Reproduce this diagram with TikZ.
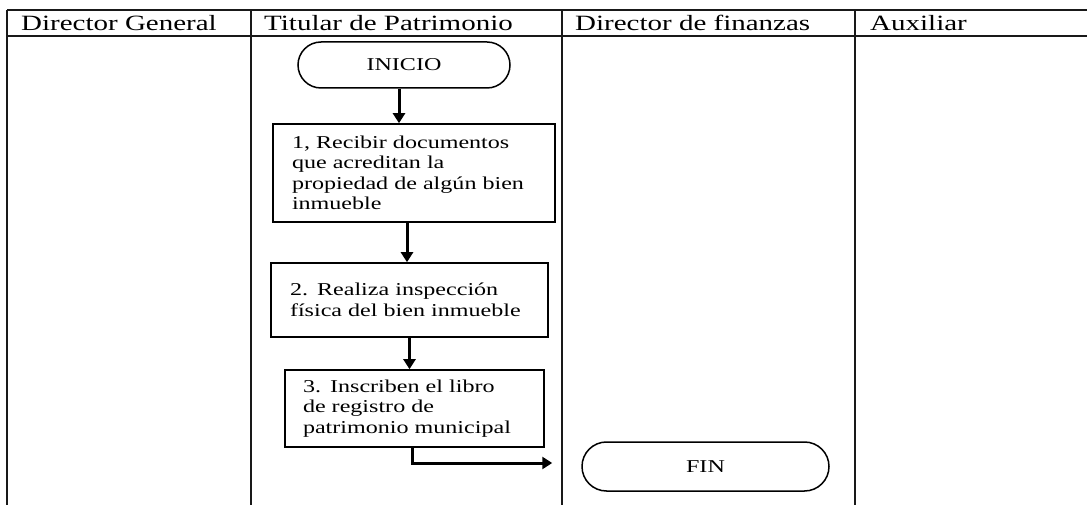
\documentclass[tikz,border=0pt]{standalone}
\usepackage{fontspec}
\setmainfont{Liberation Serif}[FakeStretch=1.33]
\usetikzlibrary{arrows.meta,shapes.misc}
\begin{document}
\begin{tikzpicture}[x=1bp,y=-1bp,
  grid/.style={line width=2bp,draw=black!90},
  hdr/.style={anchor=base west,inner sep=0pt,font=\fontsize{21.8bp}{24bp}\selectfont},
  term/.style={draw,line width=1.5bp,rounded rectangle,inner sep=0pt,font=\fontsize{18.1bp}{20.5bp}\selectfont},
  proc/.style={draw,line width=1.6bp,rectangle,align=left,inner ysep=0pt,font=\fontsize{18.1bp}{20.5bp}\selectfont},
  arr/.style={line width=3bp,-{Triangle[length=10bp,width=12bp]}}]
\useasboundingbox (0,0) rectangle (1087,505);
% table
\draw[grid] (7,10) -- (1087,10);
\draw[grid] (7,36) -- (1087,36);
\foreach \xx in {7,251,562,855} \draw[grid] (\xx,10) -- (\xx,505);
\node[hdr] (h1) at (21,31) {Director General};
\node[hdr] (h2) at (264,31) {Titular de Patrimonio};
\node[hdr] (h3) at (575,31) {Director de finanzas};
\node[hdr] (h4) at (870,31) {Auxiliar};
% nodes
\node[term,minimum width=212bp,minimum height=46bp] (inicio) at (404,65) {INICIO};
\node[proc,inner xsep=19bp,text width=244bp,minimum height=98bp] (b1) at (414,173)
  {1, Recibir documentos\\que acreditan la\\propiedad de algún bien\\inmueble};
\node[proc,inner xsep=19bp,text width=239bp,minimum height=74bp] (b2) at (409.5,300)
  {2. Realiza inspección\\física del bien inmueble};
\node[proc,inner xsep=18bp,text width=223bp,minimum height=77bp] (b3) at (414.5,408.5)
  {3. Inscriben el libro\\de registro de\\patrimonio municipal};
\node[term,minimum width=247bp,minimum height=49bp] (fin) at (705.5,466.5) {FIN};
% connectors
\draw[arr] ([xshift=-5bp]inicio.south) -- ([xshift=-5bp]inicio.south |- b1.north);
\draw[arr] ([xshift=-7bp]b1.south) -- ([xshift=-7bp]b1.south |- b2.north);
\draw[arr] (b2.south) -- (b2.south |- b3.north);
\coordinate (finin) at ([xshift=-29bp,yshift=3.5bp]fin.west);
\draw[arr] ([xshift=-2.5bp]b3.south) |- (finin);
\end{tikzpicture}
\end{document}
